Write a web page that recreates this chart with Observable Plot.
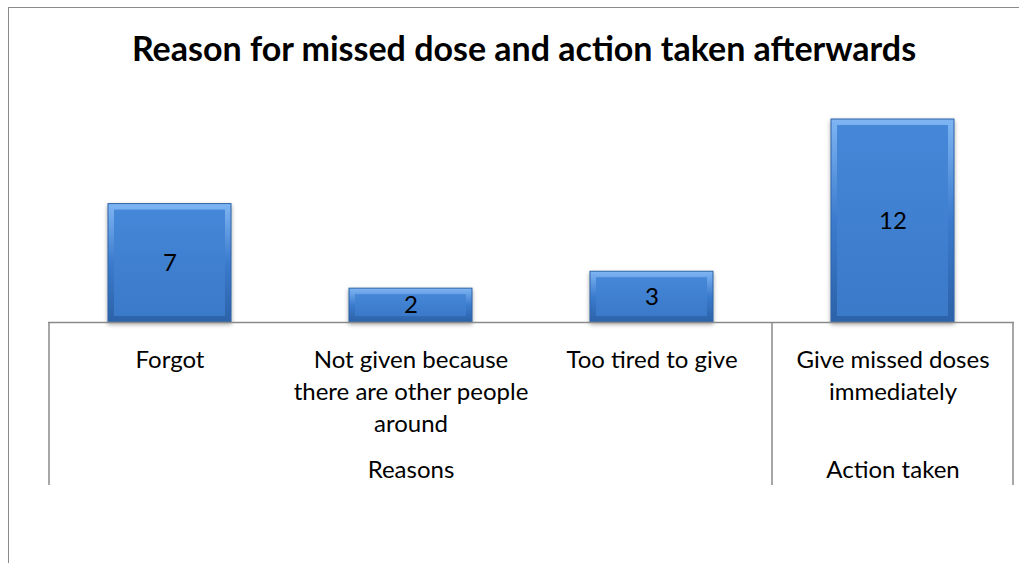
<!DOCTYPE html>
<html><head><meta charset="utf-8">
<script src="https://cdn.jsdelivr.net/npm/d3@7"></script>
<script src="https://cdn.jsdelivr.net/npm/@observablehq/plot@0.6"></script>
<style>
body{margin:0;background:#fff;}
#wrap{position:relative;width:1026px;height:563px;overflow:hidden;font-family:Lato,sans-serif;}
#frame{position:absolute;left:8px;top:7px;width:1010px;height:600px;border-left:1.5px solid #8a8a8a;border-top:1.5px solid #8a8a8a;}
#title{position:absolute;left:16px;width:1016px;top:28px;text-align:center;font-weight:bold;font-size:34px;color:#000;line-height:40px;white-space:nowrap;}
#chart{position:absolute;left:0;top:0;}
</style></head>
<body><div id="wrap"><div id="frame"></div><div id="title">Reason for missed dose and action taken afterwards</div><div id="chart"></div></div>
<script>
const categories = ["Forgot", "Not given because there are other people around", "Too tired to give", "Give missed doses immediately"];
const categoryLabels = ["Forgot", "Not given because\nthere are other people\naround", "Too tired to give", "Give missed doses\nimmediately"];
const values = [7, 2, 3, 12];
const groupNames = ["Reasons", "Action taken"];
const groupOf = [0, 0, 0, 1];

const data = categories.map((c, i) => ({cat: c, label: categoryLabels[i], value: values[i]}));
const groups = groupNames.map((g, gi) => {
  const members = categories.filter((c, i) => groupOf[i] === gi);
  return {name: g, members, mid: members[Math.floor(members.length / 2)], first: members[0], last: members[members.length - 1]};
});

const defs = () => {
  const d = d3.create("svg:defs");
  const g1 = d.append("linearGradient").attr("id", "barOuter").attr("x1", 0).attr("y1", 0).attr("x2", 0).attr("y2", 1);
  g1.append("stop").attr("offset", "0%").attr("stop-color", "#7fb5f3");
  g1.append("stop").attr("offset", "50%").attr("stop-color", "#3b7bcd");
  g1.append("stop").attr("offset", "100%").attr("stop-color", "#2c62a8");
  const g2 = d.append("linearGradient").attr("id", "barInner").attr("x1", 0).attr("y1", 0).attr("x2", 0).attr("y2", 1);
  g2.append("stop").attr("offset", "0%").attr("stop-color", "#4587d8");
  g2.append("stop").attr("offset", "100%").attr("stop-color", "#3b79c9");
  return d.node();
};

const dividers = (index, scales, vals, dims) => {
  const x = scales.x, step = x.step(), bw = x.bandwidth(), off = (step - bw) / 2;
  const y0 = dims.height - dims.marginBottom;
  const g = d3.create("svg:g").attr("stroke", "#8a8a8a").attr("stroke-width", 1.5);
  const xs = groups.map(gr => x(gr.first) - off);
  xs.push(x(groups[groups.length - 1].last) + bw + off);
  xs.forEach(px => g.append("line").attr("x1", px).attr("x2", px).attr("y1", y0).attr("y2", y0 + 163));
  return g.node();
};

const chart = Plot.plot({
  width: 1026, height: 563,
  marginTop: 119, marginBottom: 241, marginLeft: 48, marginRight: 12,
  style: {fontFamily: "Lato, sans-serif", background: "transparent", overflow: "visible"},
  x: {domain: categories, paddingInner: 0.49, paddingOuter: 0.245, axis: null},
  y: {domain: [0, 12], axis: null},
  marks: [
    defs,
    Plot.barY(data, {x: "cat", y: "value", fill: "url(#barOuter)", stroke: "#2d64aa", strokeWidth: 1}),
    Plot.barY(data, {x: "cat", y: "value", fill: "url(#barInner)", inset: 6}),
    Plot.ruleY([0], {stroke: "#8a8a8a", strokeWidth: 1.5}),
    dividers,
    Plot.text(data, {x: "cat", y: d => d.value / 2, text: d => String(d.value), fontSize: 24, fill: "#000"}),
    Plot.text(data, {x: "cat", text: "label", frameAnchor: "bottom", lineAnchor: "top", dy: 23, fontSize: 24, lineHeight: 1.333, fill: "#000"}),
    Plot.text(groups, {x: "mid", text: "name", frameAnchor: "bottom", lineAnchor: "top", dy: 138, fontSize: 24, fill: "#000"})
  ]
});
d3.select(chart).select("g[aria-label='bar']").style("filter", "drop-shadow(0px 2px 2px rgba(0,0,0,0.35))");
document.getElementById("chart").appendChild(chart);
</script>
</body></html>
